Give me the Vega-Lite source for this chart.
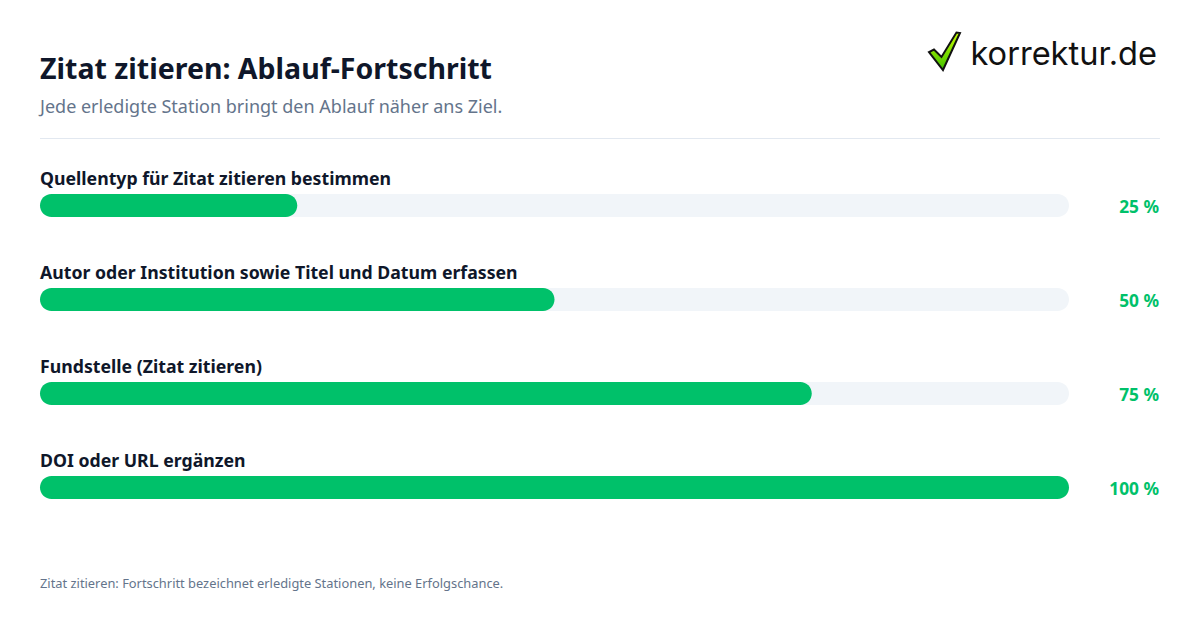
{"$schema":"https://vega.github.io/schema/vega-lite/v6.json","width":1200,"height":630,"autosize":"none","padding":0,"background":"#ffffff",
"title":{"text":"Zitat zitieren: Ablauf-Fortschritt","subtitle":"Jede erledigte Station bringt den Ablauf näher ans Ziel.","anchor":"start","frame":"group","orient":"top","dx":40,"offset":-117,"font":"Noto Sans","fontSize":28.5,"fontWeight":700,"color":"#0f172a","subtitleFont":"Noto Sans","subtitleFontSize":18,"subtitleColor":"#64748b","subtitlePadding":15},
"config":{"view":{"stroke":null},"text":{"font":"Noto Sans"}},
"data":{"values":[{"station":"Quellentyp für Zitat zitieren bestimmen","start":0,"total":100,"progress":25,"pct":"25 %"},{"station":"Autor oder Institution sowie Titel und Datum erfassen","start":0,"total":100,"progress":50,"pct":"50 %"},{"station":"Fundstelle (Zitat zitieren)","start":0,"total":100,"progress":75,"pct":"75 %"},{"station":"DOI oder URL ergänzen","start":0,"total":100,"progress":100,"pct":"100 %"}]},
"resolve":{"scale":{"y":"independent"}},
"layer":[
{"mark":{"type":"bar","color":"#f1f5f9","cornerRadius":11.5,"size":23,"orient":"horizontal"},"encoding":{"x":{"field":"start","type":"quantitative","scale":{"domain":[0,100],"range":[40,1069]},"axis":null},"x2":{"field":"total"},"y":{"field":"station","type":"nominal","sort":null,"axis":null,"scale":{"type":"point","padding":0,"range":[205.5,487.5]}}}},
{"mark":{"type":"bar","color":"#00c16a","cornerRadius":11.5,"size":23,"orient":"horizontal"},"encoding":{"x":{"field":"start","type":"quantitative","axis":null},"x2":{"field":"progress"},"y":{"field":"station","type":"nominal","sort":null,"axis":null,"scale":{"type":"point","padding":0,"range":[205.5,487.5]}}}},
{"mark":{"type":"text","align":"left","baseline":"middle","dy":-26,"fontSize":17.7,"fontWeight":700,"color":"#0f172a"},"encoding":{"x":{"field":"start","type":"quantitative","axis":null},"y":{"field":"station","type":"nominal","sort":null,"axis":null,"scale":{"type":"point","padding":0,"range":[205.5,487.5]}},"text":{"field":"station"}}},
{"mark":{"type":"text","align":"right","baseline":"middle","dy":2,"fontSize":17.3,"fontWeight":700,"color":"#00c16a"},"encoding":{"x":{"datum":108.75,"type":"quantitative","axis":null},"y":{"field":"station","type":"nominal","sort":null,"axis":null,"scale":{"type":"point","padding":0,"range":[205.5,487.5]}},"text":{"field":"pct"}}},
{"data":{"values":[{"from":0,"to":108.84}]},"mark":{"type":"rule","color":"#e2e8f0","strokeWidth":1},"encoding":{"x":{"field":"from","type":"quantitative","axis":null},"x2":{"field":"to"},"y":{"datum":138.5,"type":"quantitative","axis":null,"scale":{"domain":[0,630],"range":[0,630]}}}},
{"data":{"values":[{"t":"Zitat zitieren: Fortschritt bezeichnet erledigte Stationen, keine Erfolgschance."}]},"mark":{"type":"text","align":"left","baseline":"alphabetic","fontSize":12.87,"color":"#64748b"},"encoding":{"x":{"datum":0,"type":"quantitative","axis":null},"y":{"datum":588,"type":"quantitative","axis":null,"scale":{"domain":[0,630],"range":[0,630]}},"text":{"field":"t"}}},
{"data":{"values":[{"t":"korrektur.de"}]},"mark":{"type":"text","align":"right","baseline":"alphabetic","fontSize":32.6,"font":"Inter","color":"#111111"},"encoding":{"x":{"datum":108.55,"type":"quantitative","axis":null},"y":{"datum":65,"type":"quantitative","axis":null,"scale":{"domain":[0,630],"range":[0,630]}},"text":{"field":"t"}}},
{"data":{"values":[{"t":"logo"}]},"mark":{"type":"point","filled":true,"size":1600,"opacity":1,"stroke":"#111111","strokeWidth":2,"shape":"M-0.75,0.03L-0.5,-0.1L-0.125,0.275L0.625,-0.95L0.8,-0.925L-0.05,0.925Z","fill":{"x1":0,"y1":0,"x2":0,"y2":1,"gradient":"linear","stops":[{"offset":0,"color":"#c8ff00"},{"offset":1,"color":"#3fc000"}]}},"encoding":{"x":{"datum":87.85,"type":"quantitative","axis":null},"y":{"datum":51.5,"type":"quantitative","axis":null,"scale":{"domain":[0,630],"range":[0,630]}}}}
]}
